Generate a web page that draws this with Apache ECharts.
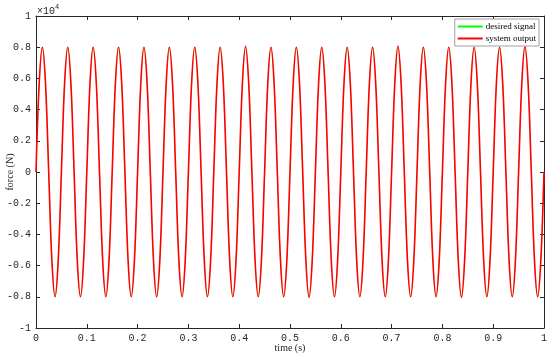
<!DOCTYPE html>
<html>
<head>
<meta charset="utf-8">
<script src="https://cdn.jsdelivr.net/npm/echarts@6/dist/echarts.min.js"></script>
<style>
  html, body { margin: 0; padding: 0; background: #fff; }
  #main { width: 550px; height: 357px; }
</style>
</head>
<body>
<div id="main"></div>
<script>
// time (s), sampled every 1/8 of a period
var timeS = [
  0, 0.00625, 0.0125, 0.01875, 0.025, 0.03125, 0.0375, 0.04375,
  0.05, 0.05625, 0.0625, 0.06875, 0.075, 0.08125, 0.0875, 0.09375,
  0.1, 0.10625, 0.1125, 0.11875, 0.125, 0.13125, 0.1375, 0.14375,
  0.15, 0.15625, 0.1625, 0.16875, 0.175, 0.18125, 0.1875, 0.19375,
  0.2, 0.20625, 0.2125, 0.21875, 0.225, 0.23125, 0.2375, 0.24375,
  0.25, 0.25625, 0.2625, 0.26875, 0.275, 0.28125, 0.2875, 0.29375,
  0.3, 0.30625, 0.3125, 0.31875, 0.325, 0.33125, 0.3375, 0.34375,
  0.35, 0.35625, 0.3625, 0.36875, 0.375, 0.38125, 0.3875, 0.39375,
  0.4, 0.40625, 0.4125, 0.41875, 0.425, 0.43125, 0.4375, 0.44375,
  0.45, 0.45625, 0.4625, 0.46875, 0.475, 0.48125, 0.4875, 0.49375,
  0.5, 0.50625, 0.5125, 0.51875, 0.525, 0.53125, 0.5375, 0.54375,
  0.55, 0.55625, 0.5625, 0.56875, 0.575, 0.58125, 0.5875, 0.59375,
  0.6, 0.60625, 0.6125, 0.61875, 0.625, 0.63125, 0.6375, 0.64375,
  0.65, 0.65625, 0.6625, 0.66875, 0.675, 0.68125, 0.6875, 0.69375,
  0.7, 0.70625, 0.7125, 0.71875, 0.725, 0.73125, 0.7375, 0.74375,
  0.75, 0.75625, 0.7625, 0.76875, 0.775, 0.78125, 0.7875, 0.79375,
  0.8, 0.80625, 0.8125, 0.81875, 0.825, 0.83125, 0.8375, 0.84375,
  0.85, 0.85625, 0.8625, 0.86875, 0.875, 0.88125, 0.8875, 0.89375,
  0.9, 0.90625, 0.9125, 0.91875, 0.925, 0.93125, 0.9375, 0.94375,
  0.95, 0.95625, 0.9625, 0.96875, 0.975, 0.98125, 0.9875, 0.99375,
  1
];

// force (N)
var desiredSignal = [
  0, 5657, 8000, 5657, 0, -5657, -8000, -5657,
  0, 5657, 8000, 5657, 0, -5657, -8000, -5657,
  0, 5657, 8000, 5657, 0, -5657, -8000, -5657,
  0, 5657, 8000, 5657, 0, -5657, -8000, -5657,
  0, 5657, 8000, 5657, 0, -5657, -8000, -5657,
  0, 5657, 8000, 5657, 0, -5657, -8000, -5657,
  0, 5657, 8000, 5657, 0, -5657, -8000, -5657,
  0, 5657, 8000, 5657, 0, -5657, -8000, -5657,
  0, 5657, 8000, 5657, 0, -5657, -8000, -5657,
  0, 5657, 8000, 5657, 0, -5657, -8000, -5657,
  0, 5657, 8000, 5657, 0, -5657, -8000, -5657,
  0, 5657, 8000, 5657, 0, -5657, -8000, -5657,
  0, 5657, 8000, 5657, 0, -5657, -8000, -5657,
  0, 5657, 8000, 5657, 0, -5657, -8000, -5657,
  0, 5657, 8000, 5657, 0, -5657, -8000, -5657,
  0, 5657, 8000, 5657, 0, -5657, -8000, -5657,
  0, 5657, 8000, 5657, 0, -5657, -8000, -5657,
  0, 5657, 8000, 5657, 0, -5657, -8000, -5657,
  0, 5657, 8000, 5657, 0, -5657, -8000, -5657,
  0, 5657, 8000, 5657, 0, -5657, -8000, -5657,
  0
];

var systemOutput = [
  0, 5657, 8000, 5657, 0, -5657, -8000, -5657,
  0, 5657, 8000, 5657, 0, -5657, -8000, -5657,
  0, 5657, 8000, 5657, 0, -5657, -8000, -5657,
  0, 5657, 8000, 5657, 0, -5657, -8000, -5657,
  0, 5657, 8000, 5657, 0, -5657, -8000, -5657,
  0, 5657, 8000, 5657, 0, -5657, -8000, -5657,
  0, 5657, 8000, 5657, 0, -5657, -8000, -5657,
  0, 5657, 8000, 5657, 0, -5657, -8000, -5657,
  0, 5657, 8060, 5657, 0, -5657, -8000, -5657,
  0, 5657, 8000, 5657, 0, -5657, -8000, -5657,
  0, 5657, 8000, 5657, 0, -5657, -8040, -5657,
  0, 5657, 8000, 5657, 0, -5657, -8000, -5657,
  0, 5657, 8000, 5657, 0, -5657, -8000, -5657,
  0, 5657, 8000, 5657, 0, -5657, -8000, -5657,
  0, 5657, 8080, 5657, 0, -5657, -8000, -5657,
  0, 5657, 8000, 5657, 0, -5657, -8000, -5657,
  0, 5657, 8000, 5657, 0, -5657, -8040, -5657,
  0, 5657, 8000, 5657, 0, -5657, -8000, -5657,
  0, 5657, 8000, 5657, 0, -5657, -8000, -5657,
  0, 5657, 8040, 5657, 0, -5657, -8000, -5657,
  0
];

var seriesNames = ['desired signal', 'system output'];

function pairs(xs, ys) {
  var out = [];
  for (var i = 0; i < xs.length; i++) {
    out.push([xs[i], ys[i]]);
  }
  return out;
}

var axisColor = '#262626';
var labelFont = 'Liberation Mono';
var nameFont = 'Liberation Serif';

function yLabel(v) {
  var t = Math.round(v / 1000) / 10;
  return String(t);
}

var chart = echarts.init(document.getElementById('main'));
var option = {
  animation: false,
  backgroundColor: '#fff',
  grid: { left: 36, right: 6, top: 16, bottom: 29, outerBoundsMode: 'none', containLabel: false },
  legend: {
    orient: 'vertical',
    right: 11,
    top: 19,
    backgroundColor: '#fff',
    borderColor: '#a0a0a0',
    borderWidth: 1,
    borderRadius: 0,
    padding: [3, 3, 3, 3],
    itemWidth: 25,
    itemHeight: 2,
    itemGap: 3,
    icon: 'rect',
    textStyle: { fontFamily: nameFont, fontSize: 9, color: '#000', padding: [0, 0, 0, -2] },
    data: seriesNames
  },
  xAxis: [{
    type: 'value',
    min: 0, max: 1, interval: 0.1,
    name: 'time (s)',
    nameLocation: 'middle',
    nameGap: 15,
    nameMoveOverlap: false,
    nameTextStyle: { fontFamily: nameFont, fontSize: 10, color: '#262626', verticalAlign: 'top' },
    axisLine: { show: true, onZero: false, lineStyle: { color: axisColor, width: 1 } },
    axisTick: { show: true, inside: true, length: 4, lineStyle: { color: axisColor } },
    axisLabel: { fontFamily: labelFont, fontSize: 10, color: '#262626', margin: 5 },
    splitLine: { show: false }
  }, {
    type: 'value',
    position: 'top',
    min: 0, max: 1, interval: 0.1,
    axisLine: { show: true, onZero: false, lineStyle: { color: axisColor, width: 1 } },
    axisTick: { show: true, inside: true, length: 4, lineStyle: { color: axisColor } },
    axisLabel: { show: false },
    splitLine: { show: false }
  }],
  yAxis: [{
    type: 'value',
    min: -10000, max: 10000, interval: 2000,
    name: 'force (N)',
    nameLocation: 'middle',
    nameGap: 21,
    nameMoveOverlap: false,
    nameTextStyle: { fontFamily: nameFont, fontSize: 10, color: '#262626' },
    axisLine: { show: true, onZero: false, lineStyle: { color: axisColor, width: 1 } },
    axisTick: { show: true, inside: true, length: 4, lineStyle: { color: axisColor } },
    axisLabel: { fontFamily: labelFont, fontSize: 10, color: '#262626', margin: 5, formatter: yLabel },
    splitLine: { show: false }
  }, {
    type: 'value',
    position: 'right',
    min: -10000, max: 10000, interval: 2000,
    axisLine: { show: true, onZero: false, lineStyle: { color: axisColor, width: 1 } },
    axisTick: { show: true, inside: true, length: 4, lineStyle: { color: axisColor } },
    axisLabel: { show: false },
    splitLine: { show: false }
  }],
  graphic: [{
    type: 'text',
    left: 37,
    top: 4,
    style: {
      text: '{a|×10}{b|4}',
      rich: {
        a: { fontFamily: labelFont, fontSize: 10, fill: '#262626', padding: [4, 0, 0, 0] },
        b: { fontFamily: labelFont, fontSize: 7, fill: '#262626', padding: [0, 0, 4, 0] }
      }
    }
  }],
  series: [{
    name: seriesNames[0],
    type: 'line',
    data: pairs(timeS, desiredSignal),
    smooth: 0.35,
    showSymbol: false,
    color: '#00ff00',
    lineStyle: { color: '#00ff00', width: 0.4 }
  }, {
    name: seriesNames[1],
    type: 'line',
    data: pairs(timeS, systemOutput),
    smooth: 0.35,
    showSymbol: false,
    color: '#ff0000',
    lineStyle: { color: '#ff0000', width: 1.6 }
  }]
};
chart.setOption(option);
</script>
</body>
</html>
